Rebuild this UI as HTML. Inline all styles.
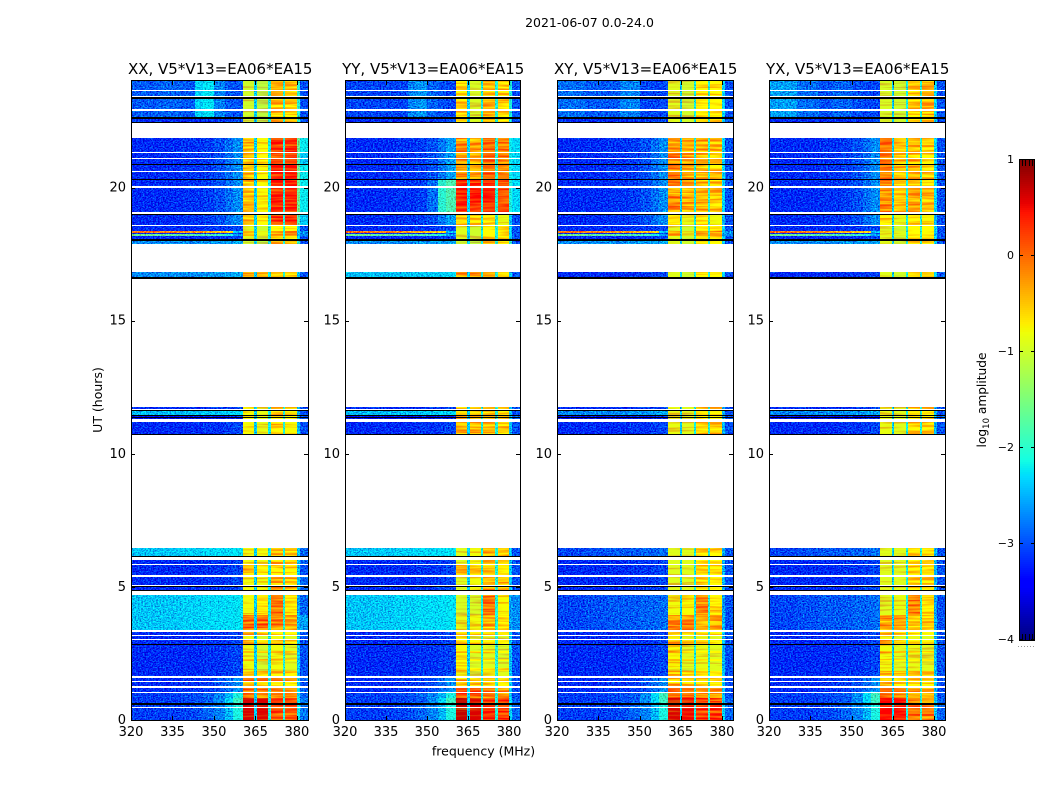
<!DOCTYPE html>
<html>
<head>
<meta charset="utf-8">
<title>Amplitude waterfall 2021-06-07</title>
<style>
html,body{margin:0;padding:0;background:#fff;}
svg{display:block;}
text{font-family:"DejaVu Sans","Liberation Sans",sans-serif;fill:#000;}
</style>
</head>
<body>
<svg id="fig" xmlns="http://www.w3.org/2000/svg" width="1050" height="800" viewBox="0 0 1050 800">
<defs>
<filter id="speckle" color-interpolation-filters="sRGB" filterUnits="userSpaceOnUse" x="0" y="0" width="1050" height="800">
<feTurbulence type="fractalNoise" baseFrequency="0.6 0.8" numOctaves="2" seed="4" result="n"/>
<feColorMatrix in="n" type="matrix" values="0 0 0 0 0.5  2.2 0 0 0 -0.6  1.2 0 0 0 -0.1  0 0 0 0 1" result="m"/>
<feComposite in="SourceGraphic" in2="m" operator="arithmetic" k1="0" k2="1" k3="0.7" k4="-0.35" result="c"/>
<feComposite in="c" in2="SourceAlpha" operator="in"/>
</filter>
<filter id="stripes" color-interpolation-filters="sRGB" filterUnits="userSpaceOnUse" x="0" y="0" width="1050" height="800">
<feTurbulence type="fractalNoise" baseFrequency="0.02 0.45" numOctaves="2" seed="9" result="n"/>
<feColorMatrix in="n" type="matrix" values="0 0 0 0 0.5  2.2 0 0 0 -0.6  0 0 0 0 0.5  0 0 0 0 1" result="m"/>
<feComposite in="SourceGraphic" in2="m" operator="arithmetic" k1="0" k2="1" k3="0.6" k4="-0.3" result="c"/>
<feComposite in="c" in2="SourceAlpha" operator="in"/>
</filter>
</defs>
<text x="589.5" y="27" font-size="12.5" text-anchor="middle">2021-06-07 0.0-24.0</text>
<text x="483.5" y="755.5" font-size="12.5" text-anchor="middle">frequency (MHz)</text>
<text transform="translate(102,400) rotate(-90)" font-size="12.5" text-anchor="middle">UT (hours)</text>
<text transform="translate(986,400) rotate(-90)" font-size="12.2" text-anchor="middle">log<tspan font-size="8.5" dy="3">10</tspan><tspan dy="-3"> amplitude</tspan></text>
</svg>
<script>
// ---------- categories ----------
const polarizations = ['XX','YY','XY','YX'];
const panelTitles = ['XX, V5*V13=EA06*EA15','YY, V5*V13=EA06*EA15','XY, V5*V13=EA06*EA15','YX, V5*V13=EA06*EA15'];
// ---------- tick labels ----------
const freqTicks = [320,335,350,365,380];
const timeTicks = [0,5,10,15,20];
const colorTicks = [-4,-3,-2,-1,0,1];
// ---------- frequency channels (MHz) ----------
const lowEdges = [320,330,338,343,346,350,354,357,360.5];
const blockEdges = [[360.5,364.6],[365.6,369.7],[370.6,375],[375.8,380]];
const gapEdges = [[364.6,365.6],[369.7,370.6],[375,375.8]];
const tailEdges = [[380,381],[381,384]];
const gapLevels = [-2.35,-2.15,-2.05];
// ---------- low-band log10 amplitude profiles ----------
const lowProfiles = {
 a:[-3.2,-3.2,-3.2,-3.2,-3.15,-3.15,-3.1,-3.05],
 b:[-3.2,-3.2,-3.15,-3.15,-3.1,-3.0,-2.85,-2.7],
 r:[-3.1,-3.1,-3.05,-3.0,-2.9,-2.75,-2.5,-2.1],
 c:[-2.42,-2.4,-2.35,-2.35,-2.3,-2.3,-2.28,-2.25],
 d:[-3.05,-3.0,-2.95,-2.95,-2.95,-2.9,-2.9,-2.85],
 e:[-2.95,-2.9,-2.95,-2.35,-2.25,-2.75,-2.95,-3.0],
 f:[-3.05,-3.05,-3.05,-2.75,-2.65,-2.9,-3.0,-3.05],
 g:[-2.85,-2.95,-2.95,-2.75,-2.75,-3.05,-3.05,-3.05],
 h:[-2.6,-2.85,-3.0,-2.9,-2.9,-3.0,-3.05,-3.05],
 i:[-2.72,-2.7,-2.7,-2.7,-2.65,-2.65,-2.6,-2.55],
 j:[-3.4,-3.4,-3.35,-3.35,-3.3,-3.3,-3.25,-3.25],
 m:[0.0,-0.1,-0.2,-0.3,-0.4,-0.5,-0.7,-2.4],
 n:[-2.45,-2.45,-2.42,-2.42,-2.4,-2.4,-2.35,-2.3],
 p:[-1.6,-1.7,-1.7,-1.8,-1.8,-1.9,-2.1,-2.6],
 s:[-3.1,-3.1,-3.05,-3.0,-2.95,-2.7,-2.3,-1.9],
 t:[-3.2,-3.2,-3.15,-3.15,-3.1,-3.0,-2.8,-2.6],
 k:[-3.2,-3.2,-3.15,-3.15,-3.1,-2.85,-2.0,-1.8]
};
// ---------- high-band levels: four blocks, then two tail channels ----------
const highProfiles = {
 A:[0.62,0.6,0.15,0.12,-2.2,-2.8], B:[0.7,0.6,0.3,0.18,-2.3,-2.9], C:[0.6,0.5,0.18,0.16,-2.3,-2.9], D:[0.45,0.42,-0.02,-0.1,-2.4,-2.9],
 E:[-0.1,-0.2,-0.3,-0.35,-2.3,-2.9], F:[0.1,0.05,-0.15,-0.2,-2.4,-3.0], G:[0.05,0.0,-0.25,-0.3,-2.4,-3.0], H:[-0.1,-0.15,-0.3,-0.4,-2.5,-3.0],
 I:[-0.82,-0.97,-0.8,-0.9,-2.4,-3.0], J:[-0.75,-0.95,-0.9,-0.95,-2.4,-3.0], K:[-0.75,-0.9,-0.85,-0.9,-2.5,-3.0], L:[-0.8,-0.9,-0.85,-0.9,-2.5,-3.0],
 M:[-0.45,-0.6,-0.6,-0.7,-2.4,-3.0],
 N:[-0.05,-0.05,-0.2,-0.35,-2.5,-2.6], O:[-0.85,-0.8,-0.4,-0.6,-2.6,-2.7], P:[-0.1,-0.15,-0.4,-0.4,-2.5,-3.0], Q:[-0.35,-0.35,-0.5,-0.45,-2.5,-3.0],
 R:[-0.8,-0.7,-0.1,-0.7,-2.6,-2.9], S:[-0.95,-0.95,-0.15,-0.75,-2.6,-2.7], T:[-0.8,-0.75,-0.15,-0.7,-2.6,-3.0], U:[-0.9,-0.85,-0.15,-0.7,-2.6,-3.0],
 V:[-0.8,-0.8,-0.4,-0.5,-2.4,-2.9], W:[-0.9,-0.8,-0.4,-0.5,-2.4,-3.0], X:[-0.9,-0.9,-0.55,-0.7,-2.5,-3.0], Y:[-0.9,-0.9,-0.55,-0.6,-2.5,-3.0],
 Z:[-0.2,-0.35,-0.05,-0.15,-2.2,-2.3],
 o:[-0.35,-0.35,-0.4,-0.55,-2.4,-3.0], q:[-0.4,-0.85,-0.35,-0.25,-2.5,-2.7], u:[-0.75,-0.85,-0.6,-0.75,-2.5,-3.0], v:[-0.85,-0.9,-0.6,-0.6,-2.5,-3.0],
 w:[-0.45,-0.75,0.35,0.35,-1.6,-2.2], x:[0.3,0.25,0.25,0.1,-2.1,-2.3], y:[-0.2,-0.35,-0.4,-0.5,-2.3,-3.0], z:[-0.15,-0.5,-0.4,-0.55,-2.3,-3.0],
 c:[-1.0,-1.1,-0.5,-0.55,-2.0,-3.0], d:[-0.6,-0.95,-0.45,-0.55,-2.1,-3.0], e:[-0.9,-1.0,-0.7,-0.7,-2.3,-3.0], f:[-0.95,-1.0,-0.6,-0.5,-2.3,-3.0],
 g:[-0.45,-0.7,0.25,0.25,-1.8,-2.4], h:[-0.5,-0.5,-0.6,-0.85,-2.4,-3.0], i:[-0.7,-0.85,-0.7,-0.8,-2.5,-3.0], j:[-0.7,-0.85,-0.7,-0.75,-2.5,-3.0]
};
// ---------- observed rows: start hour, end hour, low profile per pol, high profile per pol ----------
const rowData = [
 [0,0.45,'r r r r','A B C D'],[0.49,0.56,'r r r r','A B C D'],[0.62,0.83,'s s s s','A B C D'],[0.83,1.01,'r r s s','E F G H'],
 [1.05,1.21,'b b b b','E F G H'],[1.26,1.42,'b b b b','M M M M'],[1.46,1.59,'b b b b','E M M M'],
 [1.65,1.85,'a a a a','M I M M'],[1.85,1.95,'a a a a','I M I L'],[1.95,2.2,'a a a a','I J K L'],[2.2,2.3,'a a a a','M M M M'],
 [2.3,2.5,'a a a a','I J K L'],[2.5,2.6,'a a a a','M M M M'],[2.6,2.81,'a a a a','I J K L'],
 [2.85,3.0,'a a a a','M M M M'],[3.04,3.15,'a a a a','I J K L'],[3.19,3.3,'a a a a','M M M M'],
 [3.39,3.95,'c c d d','N O P Q'],[3.95,4.69,'c c d d','R S T U'],
 [4.86,4.99,'a a a a','V W X Y'],[5.06,5.36,'a a a a','V W X Y'],
 [5.44,5.81,'a a a a','M M X Y'],[5.85,6.02,'a a a a','V W X Y'],[6.15,6.45,'c c d d','V W X Y'],
 [10.76,11.19,'a a a a','u o v v'],[11.32,11.44,'j j j j','u o v v'],[11.45,11.62,'n n i i','u o v v'],[11.68,11.77,'a a a a','u o v v'],
 [16.62,16.83,'i n a a','o o e e'],[17.89,18.0,'i i i i','c c e e'],
 [18.05,18.18,'a a a a','e e e e'],[18.18,18.24,'p p p p','q e q v'],[18.24,18.3,'a a a a','q e q v'],[18.3,18.38,'m m m m','q e q v'],[18.38,18.56,'a a a a','e e e e'],
 [18.6,19.01,'b t b b','g h i j'],[19.09,20.0,'b k b b','w x y z'],[20.04,20.28,'b k b b','w x y z'],
 [20.32,20.58,'b t b b','w Z y z'],[20.62,20.85,'b t b b','w Z y z'],[20.9,21.07,'b t b b','g Z y z'],
 [21.11,21.28,'b t b b','g Z y z'],[21.32,21.85,'b t b b','w Z y z'],
 [22.47,22.56,'a a a a','c d e f'],[22.65,22.89,'e f g h','c d e f'],[22.93,23.34,'e f g h','c d e f'],
 [23.42,23.64,'e f g h','c d e f'],[23.68,24,'e f g h','c d e f']
];
// ---------- unflagged zero-amplitude (black) rows: start hour, end hour ----------
const blackRows = [[0.56,0.62],[2.81,2.85],[4.86,4.89],[4.99,5.03],[6.11,6.15],[10.73,10.76],[11.35,11.38],[11.44,11.47],[11.62,11.66],
 [16.58,16.62],[18.0,18.05],[18.98,19.01],[20.28,20.32],[20.85,20.9],[22.44,22.47],[22.59,22.65],[23.34,23.4]];

const NS = 'http://www.w3.org/2000/svg';
const fig = document.getElementById('fig');
const panelBoxes = [[131,308],[345,520],[557,733],[769,945]];
const plotTop = 81, plotBottom = 720;
const freqMin = 320, freqMax = 384, hourMax = 24;
const barLeft = 1019, barRight = 1035, barTop = 160, barBottom = 640, colorMin = -4, colorMax = 1;

function yScale(h){ return plotBottom - (plotBottom - plotTop) * h / hourMax; }
function colorScale(v){ return barBottom - (barBottom - barTop) * (v - colorMin) / (colorMax - colorMin); }

function interp(pts,t){
  for(let i=1;i<pts.length;i++){
    if(t<=pts[i][0]){
      const f=(t-pts[i-1][0])/(pts[i][0]-pts[i-1][0]);
      return pts[i-1][1]+f*(pts[i][1]-pts[i-1][1]);
    }
  }
  return pts[pts.length-1][1];
}
function jet(v){
  const t=Math.max(0,Math.min(1,(v-colorMin)/(colorMax-colorMin)));
  const r=interp([[0,0],[.35,0],[.66,1],[.89,1],[1,.5]],t);
  const g=interp([[0,0],[.125,0],[.375,1],[.64,1],[.91,0],[1,0]],t);
  const b=interp([[0,.5],[.11,1],[.34,1],[.65,0],[1,0]],t);
  return 'rgb('+Math.round(r*255)+','+Math.round(g*255)+','+Math.round(b*255)+')';
}

polarizations.forEach(function(pol,p){
  const box = panelBoxes[p];
  const xScale = function(f){ return box[0] + (box[1]-box[0]) * (f-freqMin) / (freqMax-freqMin); };
  const panel = document.createElementNS(NS,'g');
  
  
  fig.appendChild(panel);

  const lowCells = document.createElementNS(NS,'g');
  
  
  lowCells.setAttribute('filter','url(#speckle)');
  panel.appendChild(lowCells);

  const highCells = document.createElementNS(NS,'g');
  
  
  highCells.setAttribute('filter','url(#stripes)');
  panel.appendChild(highCells);

  const flagged = document.createElementNS(NS,'g');
  
  
  panel.appendChild(flagged);

  function addCell(parent,f0,f1,t0,t1,fill){
    const r = document.createElementNS(NS,'rect');
    const x0 = Math.round(xScale(f0)), x1 = Math.round(xScale(f1));
    const y0 = Math.round(yScale(t1)), y1 = Math.round(yScale(t0));
    
    
    r.setAttribute('x',x0);
    r.setAttribute('width',x1-x0);
    r.setAttribute('y',y0);
    r.setAttribute('height',Math.max(1,y1-y0));
    r.setAttribute('fill',fill);
    parent.appendChild(r);
  }

  rowData.forEach(function(row){
    const low = lowProfiles[row[2].split(' ')[p]];
    const high = highProfiles[row[3].split(' ')[p]];
    low.forEach(function(v,i){ addCell(lowCells,lowEdges[i],lowEdges[i+1],row[0],row[1],jet(v)); });
    blockEdges.forEach(function(e,i){ addCell(highCells,e[0],e[1],row[0],row[1],jet(high[i])); });
    gapEdges.forEach(function(e,i){ addCell(lowCells,e[0],e[1],row[0],row[1],jet(gapLevels[i])); });
    tailEdges.forEach(function(e,i){ addCell(lowCells,e[0],e[1],row[0],row[1],jet(high[4+i])); });
  });
  blackRows.forEach(function(b){ addCell(flagged,freqMin,freqMax,b[0],b[1],'#000'); });

  const frame = document.createElementNS(NS,'rect');
  
  
  frame.setAttribute('x',box[0]+0.5);
  frame.setAttribute('y',plotTop-0.5);
  frame.setAttribute('width',box[1]-box[0]);
  frame.setAttribute('height',plotBottom-plotTop+1);
  frame.setAttribute('fill','none');
  frame.setAttribute('stroke','#000');
  frame.setAttribute('stroke-width','1');
  panel.appendChild(frame);

  const title = document.createElementNS(NS,'text');
  
  
  title.setAttribute('x',(box[0]+box[1])/2+0.7);
  title.setAttribute('y',74);
  title.setAttribute('font-size','15');
  title.setAttribute('text-anchor','middle');
  title.textContent = panelTitles[p];
  panel.appendChild(title);

  freqTicks.forEach(function(f){
    const x = Math.round(xScale(f))+0.5;
    [[plotBottom,plotBottom-4],[plotTop,plotTop+4]].forEach(function(s){
      const l = document.createElementNS(NS,'line');
      
      
      l.setAttribute('x1',x);
      l.setAttribute('x2',x);
      l.setAttribute('y1',s[0]);
      l.setAttribute('y2',s[1]);
      l.setAttribute('stroke','#000');
      panel.appendChild(l);
    });
    const t = document.createElementNS(NS,'text');
    
    
    t.setAttribute('x',xScale(f));
    t.setAttribute('y',736);
    t.setAttribute('font-size','13');
    t.setAttribute('text-anchor','middle');
    t.textContent = f;
    panel.appendChild(t);
  });

  timeTicks.forEach(function(h){
    const y = Math.round(yScale(h))+0.5;
    [[box[0],box[0]+4],[box[1],box[1]-4]].forEach(function(s){
      const l = document.createElementNS(NS,'line');
      
      
      l.setAttribute('x1',s[0]);
      l.setAttribute('x2',s[1]);
      l.setAttribute('y1',y);
      l.setAttribute('y2',y);
      l.setAttribute('stroke','#000');
      panel.appendChild(l);
    });
    const t = document.createElementNS(NS,'text');
    
    
    t.setAttribute('x',box[0]-5);
    t.setAttribute('y',yScale(h)+4);
    t.setAttribute('font-size','13');
    t.setAttribute('text-anchor','end');
    t.textContent = h;
    panel.appendChild(t);
  });
});

// ---------- colorbar ----------
const cbar = document.createElementNS(NS,'g');


fig.appendChild(cbar);
const cbarGrad = document.createElementNS(NS,'g');


cbarGrad.setAttribute('shape-rendering','crispEdges');
cbar.appendChild(cbarGrad);
for(let y=barTop;y<barBottom;y+=2){
  const r = document.createElementNS(NS,'rect');
  
  
  r.setAttribute('x',barLeft);
  r.setAttribute('y',y);
  r.setAttribute('width',barRight-barLeft);
  r.setAttribute('height',2);
  r.setAttribute('fill',jet(colorMax-(y+1-barTop)*(colorMax-colorMin)/(barBottom-barTop)));
  cbarGrad.appendChild(r);
}
const cbarFrame = document.createElementNS(NS,'rect');


cbarFrame.setAttribute('x',barLeft+0.5);
cbarFrame.setAttribute('y',barTop-0.5);
cbarFrame.setAttribute('width',barRight-barLeft-1);
cbarFrame.setAttribute('height',barBottom-barTop+1);
cbarFrame.setAttribute('fill','none');
cbarFrame.setAttribute('stroke','#000');
cbar.appendChild(cbarFrame);
colorTicks.forEach(function(v){
  const y = Math.round(colorScale(v))-0.5;
  [[barLeft,barLeft+4],[barRight,barRight-4]].forEach(function(s){
    const l = document.createElementNS(NS,'line');
    
    
    l.setAttribute('x1',s[0]);
    l.setAttribute('x2',s[1]);
    l.setAttribute('y1',y);
    l.setAttribute('y2',y);
    l.setAttribute('stroke','#000');
    cbar.appendChild(l);
  });
  const t = document.createElementNS(NS,'text');
  
  
  t.setAttribute('x',barLeft-5);
  t.setAttribute('y',colorScale(v)+3);
  t.setAttribute('font-size','11');
  t.setAttribute('text-anchor','end');
  t.textContent = String(v).replace('-','\u2212');
  cbar.appendChild(t);
});
[[barTop,barTop+6],[barBottom,barBottom-6]].forEach(function(s){
  [0.2,0.4,0.6,0.8].forEach(function(fr){
    const l = document.createElementNS(NS,'line');
    const x = Math.round(barLeft+(barRight-barLeft)*fr)+0.5;
    
    
    l.setAttribute('x1',x);
    l.setAttribute('x2',x);
    l.setAttribute('y1',s[0]);
    l.setAttribute('y2',s[1]);
    l.setAttribute('stroke','#000');
    cbar.appendChild(l);
  });
});
const cbarDots = document.createElementNS(NS,'line');


cbarDots.setAttribute('x1',1018);
cbarDots.setAttribute('x2',1035);
cbarDots.setAttribute('y1',646.5);
cbarDots.setAttribute('y2',646.5);
cbarDots.setAttribute('stroke','#999');
cbarDots.setAttribute('stroke-dasharray','1 2');
cbar.appendChild(cbarDots);
</script>
</body>
</html>
